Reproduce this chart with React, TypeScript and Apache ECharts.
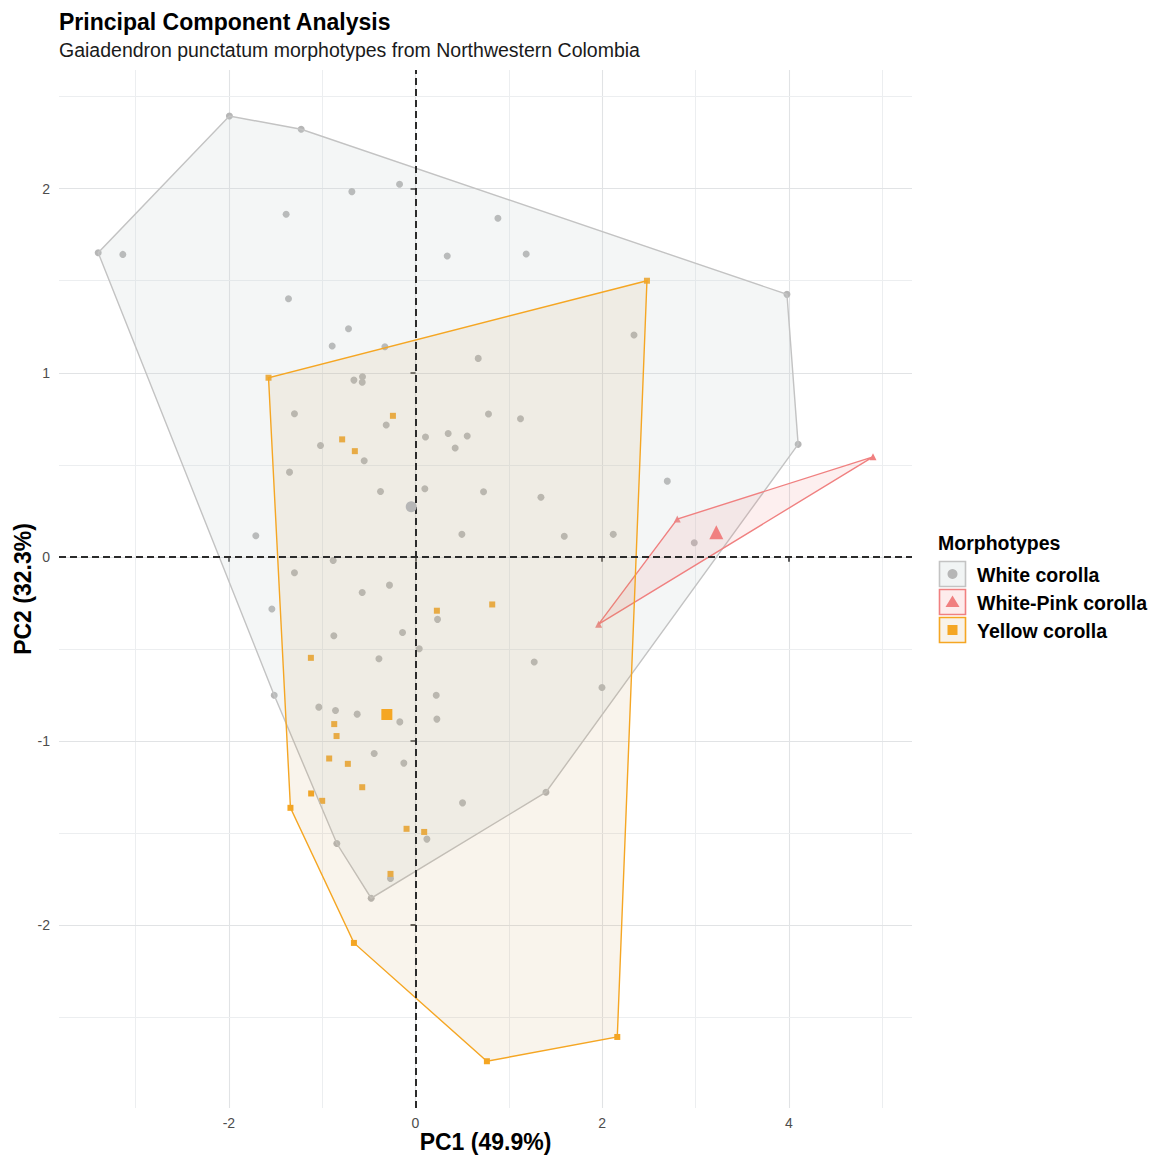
import React, { useEffect, useRef } from "react";
import * as echarts from "echarts";

// ---------- data (PC1, PC2) ----------
const groupNames = ["White corolla", "White-Pink corolla", "Yellow corolla"];

const whitePoints: [number, number][] = [
  [-3.4, 1.652], [-1.994, 2.395], [-1.225, 2.323], [3.98, 1.426], [4.1, 0.611],
  [1.398, -1.279], [-0.475, -1.855], [-0.843, -1.558], [-1.514, -0.752],
  [-3.136, 1.643], [-1.386, 1.861], [-0.682, 1.984], [-0.171, 2.024], [0.883, 1.839],
  [0.34, 1.634], [1.186, 1.645], [-1.361, 1.402], [-0.718, 1.239], [-0.893, 1.145],
  [-0.328, 1.141], [0.672, 1.078], [2.341, 1.205], [-0.66, 0.96], [-0.568, 0.978],
  [-0.571, 0.948], [-1.297, 0.777], [0.782, 0.776], [1.125, 0.75], [-0.314, 0.716],
  [0.107, 0.651], [0.35, 0.67], [0.554, 0.656], [0.425, 0.591], [-1.018, 0.605],
  [-0.55, 0.522], [-1.35, 0.46], [-0.375, 0.355], [0.1, 0.37], [0.729, 0.353],
  [1.344, 0.324], [2.698, 0.411], [0.497, 0.122], [1.594, 0.112], [2.119, 0.122],
  [2.987, 0.076], [-1.711, 0.114], [-0.882, -0.02], [-1.297, -0.087], [-0.571, -0.194],
  [-0.279, -0.154], [0.236, -0.34], [-1.539, -0.284], [-0.875, -0.429], [-0.139, -0.411],
  [0.04, -0.5], [-0.392, -0.554], [1.272, -0.572], [1.998, -0.71], [0.222, -0.752],
  [-1.036, -0.817], [-0.857, -0.835], [-0.625, -0.855], [-0.168, -0.897], [0.229, -0.882],
  [-0.443, -1.069], [-0.125, -1.121], [0.504, -1.337], [0.122, -1.534], [-0.268, -1.748],
];

const pinkPoints: [number, number][] = [
  [2.805, 0.205], [4.902, 0.543], [1.962, -0.366],
];

const yellowPoints: [number, number][] = [
  [-1.575, 0.973], [2.48, 1.5], [2.162, -2.609], [0.765, -2.741], [-0.66, -2.098],
  [-1.34, -1.364], [-0.242, 0.766], [-0.786, 0.638], [-0.65, 0.574], [0.229, -0.293],
  [0.822, -0.259], [-1.121, -0.549], [-0.871, -0.909], [-0.846, -0.974], [-0.925, -1.096],
  [-0.725, -1.125], [-0.571, -1.252], [-1.118, -1.286], [-1.0, -1.326], [-0.096, -1.478],
  [0.093, -1.495], [-0.268, -1.723],
];

const groupCentroids: [number, number][] = [
  [-0.046, 0.272], // White corolla
  [3.223, 0.133], // White-Pink corolla
  [-0.307, -0.857], // Yellow corolla
];

const xTickLabels = [-2, 0, 2, 4];
const yTickLabels = [-2, -1, 0, 1, 2];
const xMajorGrid = [-2, 0, 2, 4];
const xMinorGrid = [-3, -1, 1, 3, 5];
const yMajorGrid = [-2, -1, 0, 1, 2];
const yMinorGrid = [-2.5, -1.5, -0.5, 0.5, 1.5, 2.5];

// ---------- styling ----------
const FONT = "'Liberation Sans', Arial, Helvetica, sans-serif";
const pointColors = ["#b6b6b6", "#f08080", "#f5a623"];
const hullStroke = ["#c3c3c3", "#f08080", "#f5a623"];
const hullFill = [
  "rgba(200,210,210,0.2)",
  "rgba(240,128,128,0.13)",
  "rgba(200,150,70,0.1)",
];
const legendFill = [
  "rgba(200,210,210,0.25)",
  "rgba(240,128,128,0.15)",
  "rgba(200,150,70,0.12)",
];
const symbols = ["circle", "triangle", "rect"];
const symbolSizes = [7, 7, 6];
const centroidSizes = [11, 14, 11];

function convexHull(pts: [number, number][]): [number, number][] {
  const p = pts.slice().sort((a, b) => a[0] - b[0] || a[1] - b[1]);
  const cross = (o: number[], a: number[], b: number[]) =>
    (a[0] - o[0]) * (b[1] - o[1]) - (a[1] - o[1]) * (b[0] - o[0]);
  const lower: [number, number][] = [];
  for (const q of p) {
    while (lower.length >= 2 && cross(lower[lower.length - 2], lower[lower.length - 1], q) <= 0) lower.pop();
    lower.push(q);
  }
  const upper: [number, number][] = [];
  for (let i = p.length - 1; i >= 0; i--) {
    const q = p[i];
    while (upper.length >= 2 && cross(upper[upper.length - 2], upper[upper.length - 1], q) <= 0) upper.pop();
    upper.push(q);
  }
  upper.pop();
  lower.pop();
  return lower.concat(upper);
}

export default function App() {
  const ref = useRef<HTMLDivElement>(null);

  useEffect(() => {
    document.body.style.margin = "0";
    if (!ref.current) return;
    const chart = echarts.init(ref.current, undefined, { renderer: "svg" });

    const groups = [whitePoints, pinkPoints, yellowPoints];

    const hullSeries = groups.map((pts, gi) => {
      const hull = convexHull(pts);
      return {
        type: "custom",
        name: groupNames[gi] + " hull",
        coordinateSystem: "cartesian2d",
        silent: true,
        z: 3 + gi,
        data: hull,
        renderItem: (params: any, api: any) => {
          if (params.dataIndex !== 0) return null;
          const points = hull.map((p) => api.coord(p));
          return {
            type: "polygon",
            shape: { points },
            style: { fill: hullFill[gi], stroke: hullStroke[gi], lineWidth: 1.4 },
          };
        },
      };
    });

    const pointSeries = groups.map((pts, gi) => ({
      type: "scatter",
      name: groupNames[gi],
      data: pts,
      symbol: symbols[gi],
      symbolSize: symbolSizes[gi],
      z: 2,
      silent: true,
      itemStyle: { color: pointColors[gi], opacity: 1 },
    }));

    const centroidSeries = groups.map((_, gi) => ({
      type: "scatter",
      name: groupNames[gi] + " mean",
      data: [groupCentroids[gi]],
      symbol: symbols[gi],
      symbolSize: centroidSizes[gi],
      z: 8,
      silent: true,
      itemStyle: { color: pointColors[gi], opacity: 1 },
    }));

    const gridLines = [
      ...xMajorGrid.map((v) => ({ xAxis: v, lineStyle: { color: "#e1e3e5", width: 1.1, type: "solid" } })),
      ...xMinorGrid.map((v) => ({ xAxis: v, lineStyle: { color: "#eceef0", width: 1, type: "solid" } })),
      ...yMajorGrid.map((v) => ({ yAxis: v, lineStyle: { color: "#e1e3e5", width: 1.1, type: "solid" } })),
      ...yMinorGrid.map((v) => ({ yAxis: v, lineStyle: { color: "#eceef0", width: 1, type: "solid" } })),
    ];

    const gridSeries = {
      type: "scatter",
      name: "grid",
      data: [],
      silent: true,
      z: 0,
      markLine: {
        silent: true,
        symbol: "none",
        z: 0,
        animation: false,
        label: { show: false },
        emphasis: { disabled: true },
        data: gridLines,
      },
    };

    const zeroSeries = {
      type: "scatter",
      name: "zero",
      data: [],
      silent: true,
      z: 7,
      markLine: {
        silent: true,
        symbol: "none",
        z: 7,
        animation: false,
        label: { show: false },
        emphasis: { disabled: true },
        lineStyle: { color: "#2b2b2b", width: 2, type: [7, 4] },
        data: [{ xAxis: 0 }, { yAxis: 0 }],
      },
    };

    // legend (ggplot style keys)
    const legendX = 939.5;
    const legendTop = 561.5;
    const keyStep = 28;
    const legendGraphics: any[] = [
      {
        type: "text",
        left: 938,
        top: 533,
        style: { text: "Morphotypes", font: `bold 19.5px ${FONT}`, fill: "#000" },
      },
    ];
    groupNames.forEach((name, gi) => {
      const y = legendTop + keyStep * gi;
      const cx = legendX + 13;
      const cy = y + 12.5;
      legendGraphics.push({
        type: "rect",
        shape: { x: legendX, y, width: 26, height: 25 },
        style: { fill: legendFill[gi], stroke: hullStroke[gi], lineWidth: 1.6 },
      });
      if (gi === 0) {
        legendGraphics.push({ type: "circle", shape: { cx, cy, r: 5 }, style: { fill: pointColors[gi] } });
      } else if (gi === 1) {
        legendGraphics.push({
          type: "polygon",
          shape: { points: [[cx, cy - 6.5], [cx + 7, cy + 5], [cx - 7, cy + 5]] },
          style: { fill: pointColors[gi] },
        });
      } else {
        legendGraphics.push({
          type: "rect",
          shape: { x: cx - 5, y: cy - 5, width: 10, height: 10 },
          style: { fill: pointColors[gi] },
        });
      }
      legendGraphics.push({
        type: "text",
        x: 977,
        y: cy + 1,
        style: {
          text: name,
          font: `bold 19.5px ${FONT}`,
          fill: "#000",
          verticalAlign: "middle",
          textAlign: "left",
        },
      });
    });

    chart.setOption({
      animation: false,
      backgroundColor: "#ffffff",
      textStyle: { fontFamily: FONT },
      title: {
        text: "Principal Component Analysis",
        subtext: "Gaiadendron punctatum morphotypes from Northwestern Colombia",
        left: 59,
        top: 10,
        padding: 0,
        itemGap: 7,
        textStyle: { fontSize: 23, fontWeight: "bold", color: "#000", fontFamily: FONT },
        subtextStyle: { fontSize: 19.5, color: "#1a1a1a", fontFamily: FONT },
      },
      grid: { left: 59, right: 241, top: 70, bottom: 49, containLabel: false, outerBoundsMode: "none" },
      xAxis: {
        type: "value",
        min: -3.82,
        max: 5.32,
        name: "PC1 (49.9%)",
        nameLocation: "middle",
        nameGap: 22,
        nameMoveOverlap: false,
        nameTextStyle: { fontSize: 23, fontWeight: "bold", color: "#000", fontFamily: FONT },
        axisLine: { show: false },
        splitLine: { show: false },
        axisTick: { show: true, length: 5, customValues: xTickLabels, lineStyle: { color: "#333", width: 1.6 } },
        axisLabel: { customValues: xTickLabels, fontSize: 14, color: "#4d4d4d", margin: 8 },
      },
      yAxis: {
        type: "value",
        min: -2.995,
        max: 2.645,
        name: "PC2 (32.3%)",
        nameLocation: "middle",
        nameGap: 25,
        nameRotate: 90,
        nameMoveOverlap: false,
        nameTextStyle: { fontSize: 23, fontWeight: "bold", color: "#000", fontFamily: FONT },
        axisLine: { show: false },
        splitLine: { show: false },
        axisTick: { show: true, length: 5, customValues: yTickLabels, lineStyle: { color: "#333", width: 1.6 } },
        axisLabel: { customValues: yTickLabels, fontSize: 14, color: "#4d4d4d", margin: 9 },
      },
      legend: { show: false },
      tooltip: { show: false },
      graphic: legendGraphics,
      series: [gridSeries, ...pointSeries, ...hullSeries, zeroSeries, ...centroidSeries],
    });

    return () => chart.dispose();
  }, []);

  return <div ref={ref} style={{ width: 1153, height: 1157, overflow: "hidden" }} />;
}
